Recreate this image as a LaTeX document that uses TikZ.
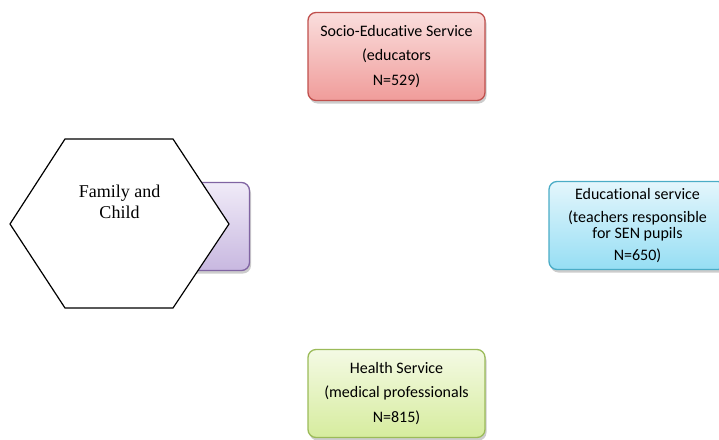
\documentclass[tikz,border=0pt]{standalone}
\usepackage{fontspec}
\setmainfont{Liberation Serif}
\setsansfont{Carlito}[Ligatures=NoCommon]
\usetikzlibrary{shadows}

\definecolor{socioline}{RGB}{192,80,77}
\definecolor{sociotop}{RGB}{250,222,221}
\definecolor{sociobot}{RGB}{240,156,154}
\definecolor{famline}{RGB}{128,100,162}
\definecolor{famtop}{RGB}{240,235,248}
\definecolor{fambot}{RGB}{200,184,224}
\definecolor{eduline}{RGB}{75,172,198}
\definecolor{edutop}{RGB}{228,246,252}
\definecolor{edubot}{RGB}{150,222,244}
\definecolor{healthline}{RGB}{155,187,89}
\definecolor{healthtop}{RGB}{244,250,228}
\definecolor{healthbot}{RGB}{214,236,158}

\begin{document}
\begin{tikzpicture}[x=1pt, y=-1pt,
    svcbox/.style={draw, rounded corners=8pt, line width=1.3pt,
      minimum width=177pt, minimum height=88pt, inner sep=2pt,
      align=center, font=\sffamily\fontsize{16}{24.5}\selectfont,
      drop shadow={shadow xshift=1.5pt, shadow yshift=-3pt, opacity=0.4}},
    hexline/.style={draw=black, line width=1.2pt, fill=white, line join=miter},
    hextext/.style={align=center, font=\fontsize{18}{20.5}\selectfont}]
  \useasboundingbox (0,0) rectangle (719,439);
  % service boxes
  \node[svcbox, draw=socioline, top color=sociotop, bottom color=sociobot]
    (socio) at (396.5,56.5) {Socio-Educative Service\\(educators\\N=529)};
  \node[svcbox, draw=famline, top color=famtop, bottom color=fambot]
    (famback) at (161,226.5) {};
  \node[svcbox, draw=eduline, top color=edutop, bottom color=edubot]
    (edu) at (637.5,225.5) {Educational service\\[-1pt](teachers responsible\\[-8.5pt]for SEN pupils\\[-2.5pt]N=650)};
  \node[svcbox, draw=healthline, top color=healthtop, bottom color=healthbot]
    (health) at (396.5,393.5) {Health Service\\(medical professionals\\N=815)};
  % family hexagon
  \draw[hexline] (10,224) -- (65,139) -- (173,139) -- (229,224)
    -- (173,308) -- (65,308) -- cycle;
  \node[hextext] (family) at (119.5,202) {Family and\\Child};
\end{tikzpicture}
\end{document}
